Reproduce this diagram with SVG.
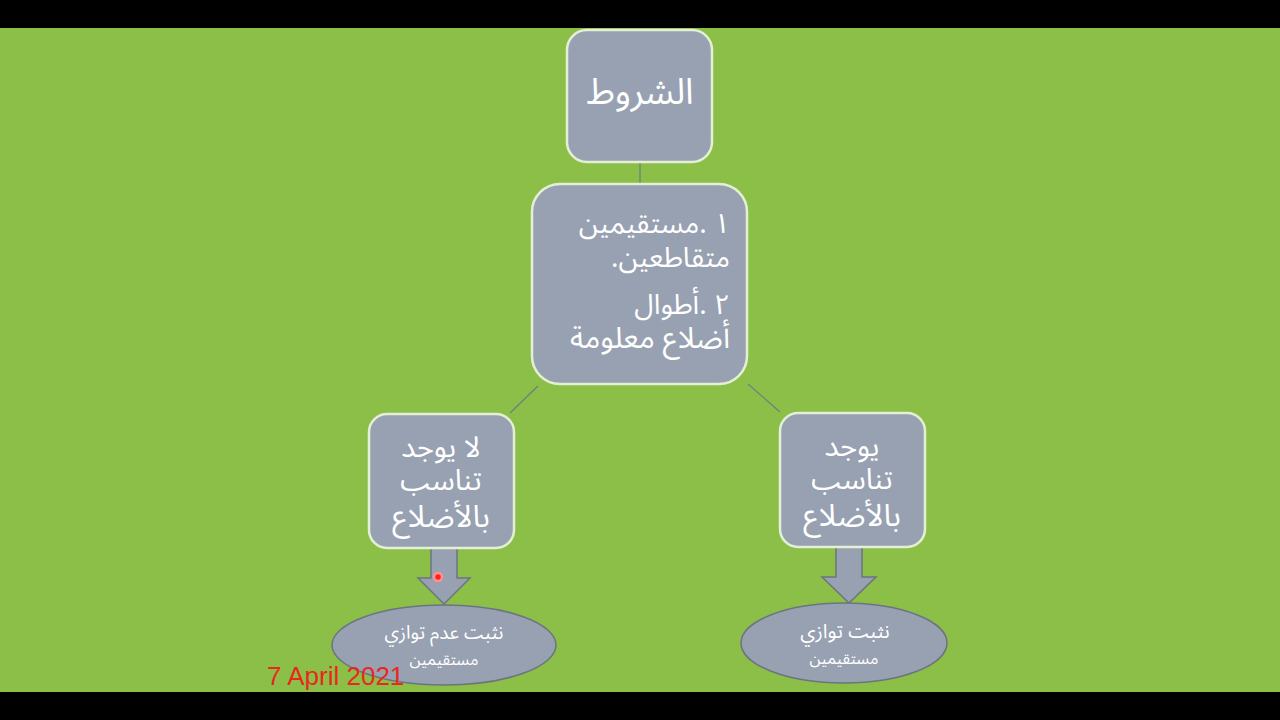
<svg xmlns="http://www.w3.org/2000/svg" width="1280" height="720" viewBox="0 0 1280 720">
<style>
.box{fill:#97A1B1;stroke:#E4F0D6;stroke-width:2.5}
.ell{fill:#97A1B1;stroke:#6C7480;stroke-width:1.5}
.arr{fill:#97A1B1;stroke:#6C7480;stroke-width:1.5}
.con{stroke:#6F7F80;stroke-width:1.3;fill:none}
.t{font-family:"Noto Sans Arabic","DejaVu Sans",sans-serif;fill:#FFFFFF;direction:rtl;unicode-bidi:embed}
.c{text-anchor:middle}
</style>
<rect x="0" y="0" width="1280" height="720" fill="#000000"/>
<rect x="0" y="28" width="1280" height="664" fill="#8BBF48"/>
<g id="connectors">
<line class="con" x1="640" y1="162" x2="640" y2="184"/>
<line class="con" x1="538" y1="386" x2="510" y2="413"/>
<line class="con" x1="748" y1="384" x2="780" y2="412"/>
<path class="arr" d="M431,548 L457,548 L457,578 L470,578 L444,604 L418,578 L431,578 Z"/>
<path class="arr" d="M836,547 L862,547 L862,577 L876,577 L849,603 L822,577 L836,577 Z"/>
</g>
<g id="node-top">
<rect class="box" x="567" y="30" width="145" height="132" rx="20"/>
<text class="t c" x="640" y="104" font-size="36">الشروط</text>
</g>
<g id="node-middle">
<rect class="box" x="532" y="184" width="215" height="200" rx="28"/>
<text class="t" x="730" y="233" font-size="28" text-anchor="start">١ .مستقيمين</text>
<text class="t" x="730" y="267" font-size="28" text-anchor="start">متقاطعين.</text>
<text class="t" x="730" y="314" font-size="28" text-anchor="start">٢ .أطوال</text>
<text class="t" x="730" y="348" font-size="30" text-anchor="start">أضلاع معلومة</text>
</g>
<g id="node-left">
<rect class="box" x="369" y="414" width="145" height="134" rx="18"/>
<text class="t c" x="441" y="457" font-size="29">لا يوجد</text>
<text class="t c" x="441" y="490" font-size="29">تناسب</text>
<text class="t c" x="441" y="527" font-size="31">بالأضلاع</text>
</g>
<g id="node-right">
<rect class="box" x="780" y="413" width="145" height="134" rx="18"/>
<text class="t c" x="852" y="456" font-size="29">يوجد</text>
<text class="t c" x="852" y="489" font-size="29">تناسب</text>
<text class="t c" x="852" y="526" font-size="31">بالأضلاع</text>
</g>
<g id="node-ellipse-left">
<ellipse class="ell" cx="444" cy="645" rx="112" ry="40"/>
<text class="t c" x="444" y="639" font-size="19">نثبت عدم توازي</text>
<text class="t c" x="444" y="665" font-size="16">مستقيمين</text>
</g>
<g id="node-ellipse-right">
<ellipse class="ell" cx="844" cy="643" rx="103" ry="40"/>
<text class="t c" x="845" y="638" font-size="20">نثبت توازي</text>
<text class="t c" x="844" y="664" font-size="16">مستقيمين</text>
</g>
<circle cx="438" cy="577" r="4" fill="#FF2020" stroke="#FF9090" stroke-width="2.5"/>
<text x="267" y="685" font-family="Liberation Sans, Arial, sans-serif" font-size="26" fill="#E8281E">7 April 2021</text>
</svg>
